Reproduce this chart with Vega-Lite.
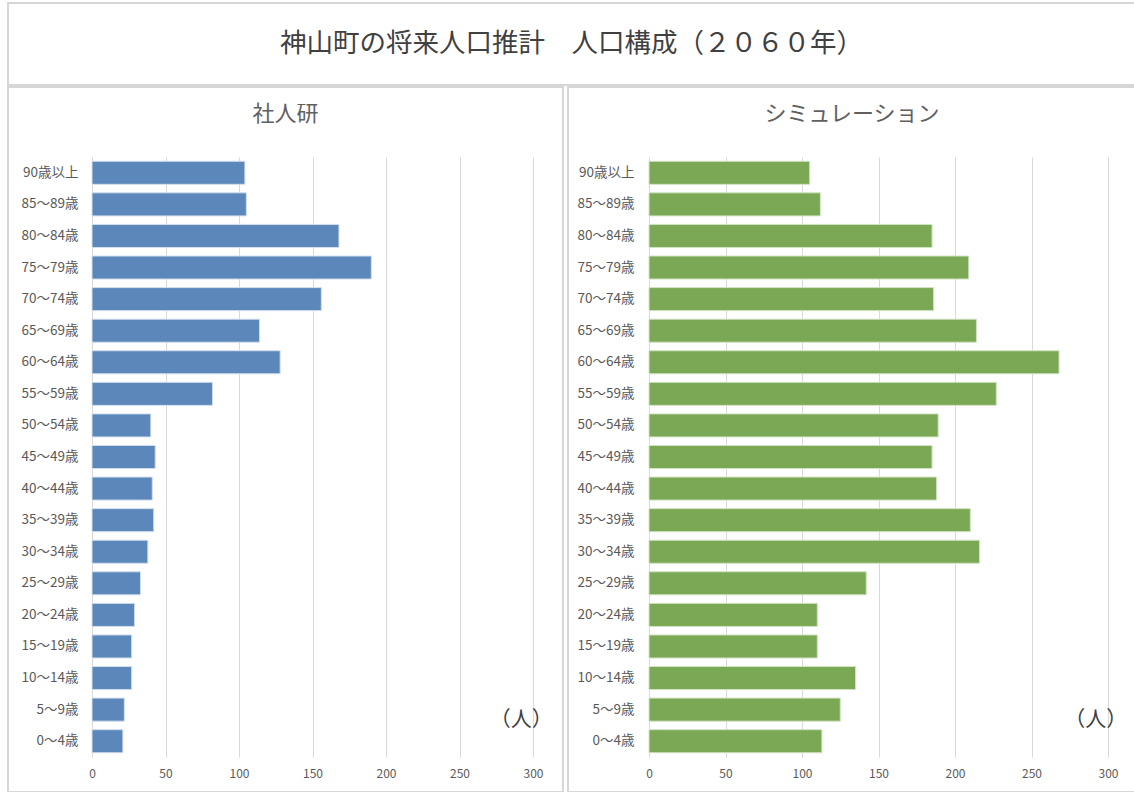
{
  "$schema": "https://vega.github.io/schema/vega-lite/v6.json",
  "padding": {"left": 7, "top": 2, "right": 0, "bottom": 0},
  "background": "white",
  "config": {
    "view": {"stroke": "#d6d6d6", "strokeWidth": 2},
    "font": "Noto Sans CJK JP",
    "concat": {"spacing": 0}
  },
  "datasets": {
    "pop": [
      {"panel": "社人研", "age": "90歳以上", "value": 104},
      {"panel": "社人研", "age": "85～89歳", "value": 105},
      {"panel": "社人研", "age": "80～84歳", "value": 168},
      {"panel": "社人研", "age": "75～79歳", "value": 190},
      {"panel": "社人研", "age": "70～74歳", "value": 156},
      {"panel": "社人研", "age": "65～69歳", "value": 114},
      {"panel": "社人研", "age": "60～64歳", "value": 128},
      {"panel": "社人研", "age": "55～59歳", "value": 82},
      {"panel": "社人研", "age": "50～54歳", "value": 40},
      {"panel": "社人研", "age": "45～49歳", "value": 43},
      {"panel": "社人研", "age": "40～44歳", "value": 41},
      {"panel": "社人研", "age": "35～39歳", "value": 42},
      {"panel": "社人研", "age": "30～34歳", "value": 38},
      {"panel": "社人研", "age": "25～29歳", "value": 33},
      {"panel": "社人研", "age": "20～24歳", "value": 29},
      {"panel": "社人研", "age": "15～19歳", "value": 27},
      {"panel": "社人研", "age": "10～14歳", "value": 27},
      {"panel": "社人研", "age": "5～9歳", "value": 22},
      {"panel": "社人研", "age": "0～4歳", "value": 21},
      {"panel": "シミュレーション", "age": "90歳以上", "value": 105},
      {"panel": "シミュレーション", "age": "85～89歳", "value": 112},
      {"panel": "シミュレーション", "age": "80～84歳", "value": 185},
      {"panel": "シミュレーション", "age": "75～79歳", "value": 209},
      {"panel": "シミュレーション", "age": "70～74歳", "value": 186},
      {"panel": "シミュレーション", "age": "65～69歳", "value": 214},
      {"panel": "シミュレーション", "age": "60～64歳", "value": 268},
      {"panel": "シミュレーション", "age": "55～59歳", "value": 227},
      {"panel": "シミュレーション", "age": "50～54歳", "value": 189},
      {"panel": "シミュレーション", "age": "45～49歳", "value": 185},
      {"panel": "シミュレーション", "age": "40～44歳", "value": 188},
      {"panel": "シミュレーション", "age": "35～39歳", "value": 210},
      {"panel": "シミュレーション", "age": "30～34歳", "value": 216},
      {"panel": "シミュレーション", "age": "25～29歳", "value": 142},
      {"panel": "シミュレーション", "age": "20～24歳", "value": 110},
      {"panel": "シミュレーション", "age": "15～19歳", "value": 110},
      {"panel": "シミュレーション", "age": "10～14歳", "value": 135},
      {"panel": "シミュレーション", "age": "5～9歳", "value": 125},
      {"panel": "シミュレーション", "age": "0～4歳", "value": 113}
    ]
  },
  "spacing": 0,
  "vconcat": [
    {
      "width": 1127,
      "height": 82,
      "data": {"values": [{"t": "神山町の将来人口推計　人口構成（２０６０年）"}]},
      "mark": {"type": "text", "fontSize": 26.5, "color": "#404040"},
      "encoding": {
        "x": {"datum": 0.5, "type": "quantitative", "scale": {"domain": [0, 1]}, "axis": null},
        "y": {"datum": 0.5, "type": "quantitative", "scale": {"domain": [0, 1]}, "axis": null},
        "text": {"field": "t"}
      }
    },
    {
      "spacing": 3,
      "hconcat": [
        {
          "width": 555,
          "height": 705,
          "title": {"text": "社人研", "offset": -39, "fontSize": 22, "color": "#606060", "fontWeight": "normal", "frame": "group"},
          "resolve": {"axis": {"x": "independent"}},
          "layer": [
            {
              "data": {"name": "pop"},
              "transform": [{"filter": "datum.panel === '社人研'"}],
              "mark": {"type": "bar", "color": "#5B87BB", "stroke": "#d3deec", "strokeWidth": 1},
              "encoding": {
                "y": {
                  "field": "age", "type": "nominal",
                  "sort": ["90歳以上", "85～89歳", "80～84歳", "75～79歳", "70～74歳", "65～69歳", "60～64歳", "55～59歳", "50～54歳", "45～49歳", "40～44歳", "35～39歳", "30～34歳", "25～29歳", "20～24歳", "15～19歳", "10～14歳", "5～9歳", "0～4歳"],
                  "scale": {"range": [70, 670], "paddingInner": 0.27, "paddingOuter": 0.135},
                  "axis": {"title": null, "orient": "left", "offset": -70, "labelPadding": 0, "ticks": false, "domain": false, "labelFontSize": 13.5, "labelColor": "#595959"}
                },
                "x": {
                  "field": "value", "type": "quantitative",
                  "scale": {"domain": [0, 300], "range": [84, 525], "nice": false},
                  "axis": {"title": null, "orient": "bottom", "values": [0, 50, 100, 150, 200, 250, 300], "offset": -27, "domain": false, "ticks": false, "grid": false, "labelFlush": false, "labelColor": "#595959", "labelFontSize": 12, "labelPadding": 3}
                }
              }
            },
            {
              "data": {"values": [{"u": "（人）"}]},
              "mark": {"type": "text", "fontSize": 21, "color": "#404040"},
              "encoding": {
                "x": {"datum": 292, "type": "quantitative", "axis": {"orient": "top", "title": null, "values": [0, 50, 100, 150, 200, 250, 300], "labels": false, "ticks": false, "domain": false, "grid": true, "gridColor": "#d9d9d9"}},
                "y": {"datum": "0～4歳"},
                "yOffset": {"value": -10},
                "text": {"field": "u"}
              }
            }
          ]
        },
        {
          "width": 568,
          "height": 705,
          "title": {"text": "シミュレーション", "offset": -39, "fontSize": 22, "color": "#606060", "fontWeight": "normal", "frame": "group"},
          "resolve": {"axis": {"x": "independent"}},
          "layer": [
            {
              "data": {"name": "pop"},
              "transform": [{"filter": "datum.panel === 'シミュレーション'"}],
              "mark": {"type": "bar", "color": "#7BA854", "stroke": "#d2e3c4", "strokeWidth": 1},
              "encoding": {
                "y": {
                  "field": "age", "type": "nominal",
                  "sort": ["90歳以上", "85～89歳", "80～84歳", "75～79歳", "70～74歳", "65～69歳", "60～64歳", "55～59歳", "50～54歳", "45～49歳", "40～44歳", "35～39歳", "30～34歳", "25～29歳", "20～24歳", "15～19歳", "10～14歳", "5～9歳", "0～4歳"],
                  "scale": {"range": [70, 670], "paddingInner": 0.27, "paddingOuter": 0.135},
                  "axis": {"title": null, "orient": "left", "offset": -66, "labelPadding": 0, "ticks": false, "domain": false, "labelFontSize": 13.5, "labelColor": "#595959"}
                },
                "x": {
                  "field": "value", "type": "quantitative",
                  "scale": {"domain": [0, 300], "range": [81, 540], "nice": false},
                  "axis": {"title": null, "orient": "bottom", "values": [0, 50, 100, 150, 200, 250, 300], "offset": -27, "domain": false, "ticks": false, "grid": false, "labelFlush": false, "labelColor": "#595959", "labelFontSize": 12, "labelPadding": 3}
                }
              }
            },
            {
              "data": {"values": [{"u": "（人）"}]},
              "mark": {"type": "text", "fontSize": 21, "color": "#404040"},
              "encoding": {
                "x": {"datum": 292, "type": "quantitative", "axis": {"orient": "top", "title": null, "values": [0, 50, 100, 150, 200, 250, 300], "labels": false, "ticks": false, "domain": false, "grid": true, "gridColor": "#d9d9d9"}},
                "y": {"datum": "0～4歳"},
                "yOffset": {"value": -10},
                "text": {"field": "u"}
              }
            }
          ]
        }
      ]
    }
  ]
}
